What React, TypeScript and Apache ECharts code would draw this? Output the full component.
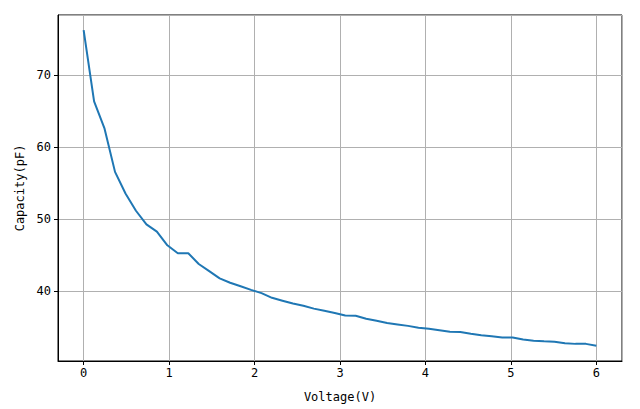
import React, { useEffect, useRef } from "react";
import * as echarts from "echarts";

// Voltage samples: 50 evenly spaced points from 0 V to 6 V
const voltage: number[] = [
  0.0, 0.1224, 0.2449, 0.3673, 0.4898, 0.6122, 0.7347, 0.8571, 0.9796, 1.102,
  1.2245, 1.3469, 1.4694, 1.5918, 1.7143, 1.8367, 1.9592, 2.0816, 2.2041, 2.3265,
  2.449, 2.5714, 2.6939, 2.8163, 2.9388, 3.0612, 3.1837, 3.3061, 3.4286, 3.551,
  3.6735, 3.7959, 3.9184, 4.0408, 4.1633, 4.2857, 4.4082, 4.5306, 4.6531, 4.7755,
  4.898, 5.0204, 5.1429, 5.2653, 5.3878, 5.5102, 5.6327, 5.7551, 5.8776, 6.0,
];

const capacity: number[] = [
  76.3, 66.4, 62.6, 56.6, 53.6, 51.2, 49.3, 48.3, 46.4, 45.3,
  45.3, 43.8, 42.8, 41.8, 41.2, 40.7, 40.2, 39.75, 39.1, 38.7,
  38.3, 38.0, 37.6, 37.3, 37.0, 36.65, 36.6, 36.2, 35.9, 35.6,
  35.4, 35.2, 34.95, 34.8, 34.6, 34.4, 34.35, 34.1, 33.9, 33.75,
  33.6, 33.6, 33.3, 33.15, 33.05, 33.0, 32.8, 32.7, 32.7, 32.45,
];

const xTicks: number[] = [0, 1, 2, 3, 4, 5, 6];
const yTicks: number[] = [40, 50, 60, 70];

const FONT = "'DejaVu Sans Mono', monospace";

export default function App() {
  const ref = useRef<HTMLDivElement>(null);

  useEffect(() => {
    if (!ref.current) return;
    const chart = echarts.init(ref.current, null, { renderer: "svg" });
    const xMin = -0.3;
    const xMax = 6.3;
    const yMin = 30.32;
    const yMax = 78.4;
    chart.setOption({
      animation: false,
      backgroundColor: "#ffffff",
      grid: {
        left: 58,
        right: 18,
        top: 15,
        bottom: 48,
        show: true,
        borderColor: "#000000",
        borderWidth: 1,
        backgroundColor: "transparent",
      },
      xAxis: {
        type: "value",
        min: xMin,
        max: xMax,
        splitNumber: 6,
        name: "Voltage(V)",
        nameLocation: "middle",
        nameGap: 30,
        nameTextStyle: { fontFamily: FONT, fontSize: 12, color: "#000" },
        axisLine: { show: true, onZero: false, lineStyle: { color: "#000", width: 1 } },
        axisTick: { show: true, inside: false, length: 4, lineStyle: { color: "#000" } },
        axisLabel: {
          showMinLabel: false,
          showMaxLabel: false,
          margin: 6,
          fontFamily: FONT,
          fontSize: 12,
          color: "#000",
          formatter: (v: number) => (xTicks.includes(Math.round(v * 1000) / 1000) ? String(Math.round(v)) : ""),
        },
        splitLine: { show: true, lineStyle: { color: "#b0b0b0", width: 1 } },
      },
      yAxis: {
        type: "value",
        min: yMin,
        max: yMax,
        splitNumber: 5,
        name: "Capacity(pF)",
        nameLocation: "middle",
        nameGap: 31,
        nameTextStyle: { fontFamily: FONT, fontSize: 12, color: "#000" },
        axisLine: { show: true, onZero: false, lineStyle: { color: "#000", width: 1 } },
        axisTick: { show: true, inside: false, length: 4, lineStyle: { color: "#000" } },
        axisLabel: {
          showMinLabel: false,
          showMaxLabel: false,
          margin: 7,
          fontFamily: FONT,
          fontSize: 12,
          color: "#000",
          formatter: (v: number) => (yTicks.includes(Math.round(v * 1000) / 1000) ? String(Math.round(v)) : ""),
        },
        splitLine: { show: true, lineStyle: { color: "#b0b0b0", width: 1 } },
      },
      series: [
        {
          type: "line",
          data: voltage.map((v, i) => [v, capacity[i]]),
          showSymbol: false,
          symbol: "none",
          lineStyle: { color: "#1f77b4", width: 2 },
          itemStyle: { color: "#1f77b4" },
        },
      ],
    });
    return () => chart.dispose();
  }, []);

  return <div ref={ref} style={{ width: 640, height: 409, position: "absolute", left: 0, top: 0 }} />;
}
